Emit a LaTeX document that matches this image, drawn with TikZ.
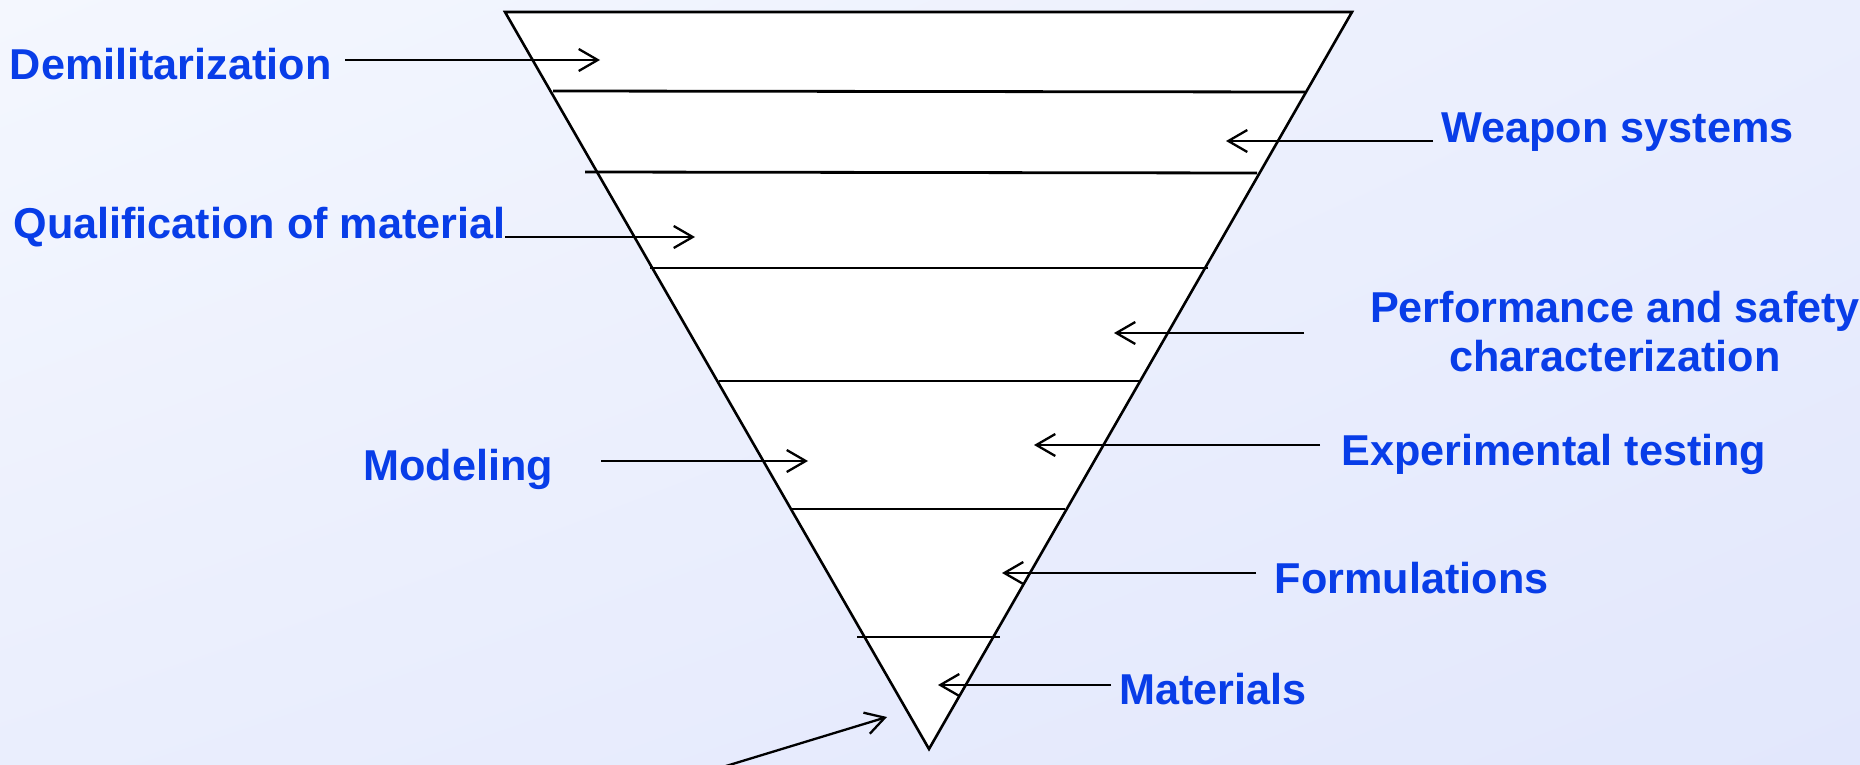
\documentclass[tikz,border=0pt]{standalone}
\usepackage{fontspec}
\setmainfont{Liberation Sans}
\usetikzlibrary{arrows.meta,shadings}
\definecolor{txtblue}{HTML}{083DE8}
\definecolor{bgUL}{HTML}{F4F7FE}
\definecolor{bgLR}{HTML}{E2E7FC}
\definecolor{bgMid}{HTML}{EAEEFD}
\tikzset{
  lbl/.style={font=\fontsize{21.6}{24.5}\selectfont\bfseries, text=txtblue, inner sep=0pt, anchor=base west},
  arr/.style={line width=1.15pt, -{Straight Barb[length=9.5pt,width=11pt,line width=1.15pt]}},
  band/.style={line width=1.4pt, line cap=butt},
}
\begin{document}
\begin{tikzpicture}[x=0.5pt,y=-0.5pt]
\clip (0,0) rectangle (1860,765);
\shade[upper left=bgUL, lower right=bgLR, upper right=bgMid, lower left=bgMid] (0,0) rectangle (1860,765);

% funnel
\draw[fill=white, line width=1.3pt, line join=miter] (505,12) -- (1352,12) -- (929,749) -- cycle;
\draw[band] (553,91) -- (1305,92);
\draw[band] (585,172) -- (1257,173);
\draw[band] (650,268) -- (1208,268);
\draw[band] (719,381) -- (1140,381);
\draw[band] (792,509) -- (1065,509);
\draw[band] (857,637) -- (1000,637);

% labels
\node[lbl] (dem)  at (9.5,80)  {Demilitarization};
\node[lbl] (weap) at (1441,143) {Weapon systems};
\node[lbl] (qual) at (13,239)  {Qualification of material};
\node[lbl, anchor=base] (perf) at (1615,322) {\begin{tabular}[t]{@{}c@{}}Performance and safety\\characterization\end{tabular}};
\node[lbl] (mod)  at (363,480) {Modeling};
\node[lbl] (exp)  at (1341,465) {Experimental testing};
\node[lbl] (form) at (1274.5,593) {Formulations};
\node[lbl] (mat)  at (1119,704) {Materials};

% arrow end points
\coordinate (demS) at (345,60);   \coordinate (demT) at (600,60);
\coordinate (weapS) at (1433,141); \coordinate (weapT) at (1226,141);
\coordinate (qualS) at (505,237);  \coordinate (qualT) at (695,237);
\coordinate (perfS) at (1304,333); \coordinate (perfT) at (1114,333);
\coordinate (modS) at (601,461);   \coordinate (modT) at (808,461);
\coordinate (expS) at (1320,445);  \coordinate (expT) at (1034,445);
\coordinate (formS) at (1256,573); \coordinate (formT) at (1002,573);
\coordinate (matS) at (1111,685);  \coordinate (matT) at (938,685);
\coordinate (botS) at (680,780);   \coordinate (botT) at (887,717);

\draw[arr] (demS) -- (demT);
\draw[arr] (weapS) -- (weapT);
\draw[arr] (qualS) -- (qualT);
\draw[arr] (perfS) -- (perfT);
\draw[arr] (modS) -- (modT);
\draw[arr] (expS) -- (expT);
\draw[arr] (formS) -- (formT);
\draw[arr] (matS) -- (matT);
\draw[arr] (botS) -- (botT);
\end{tikzpicture}
\end{document}
